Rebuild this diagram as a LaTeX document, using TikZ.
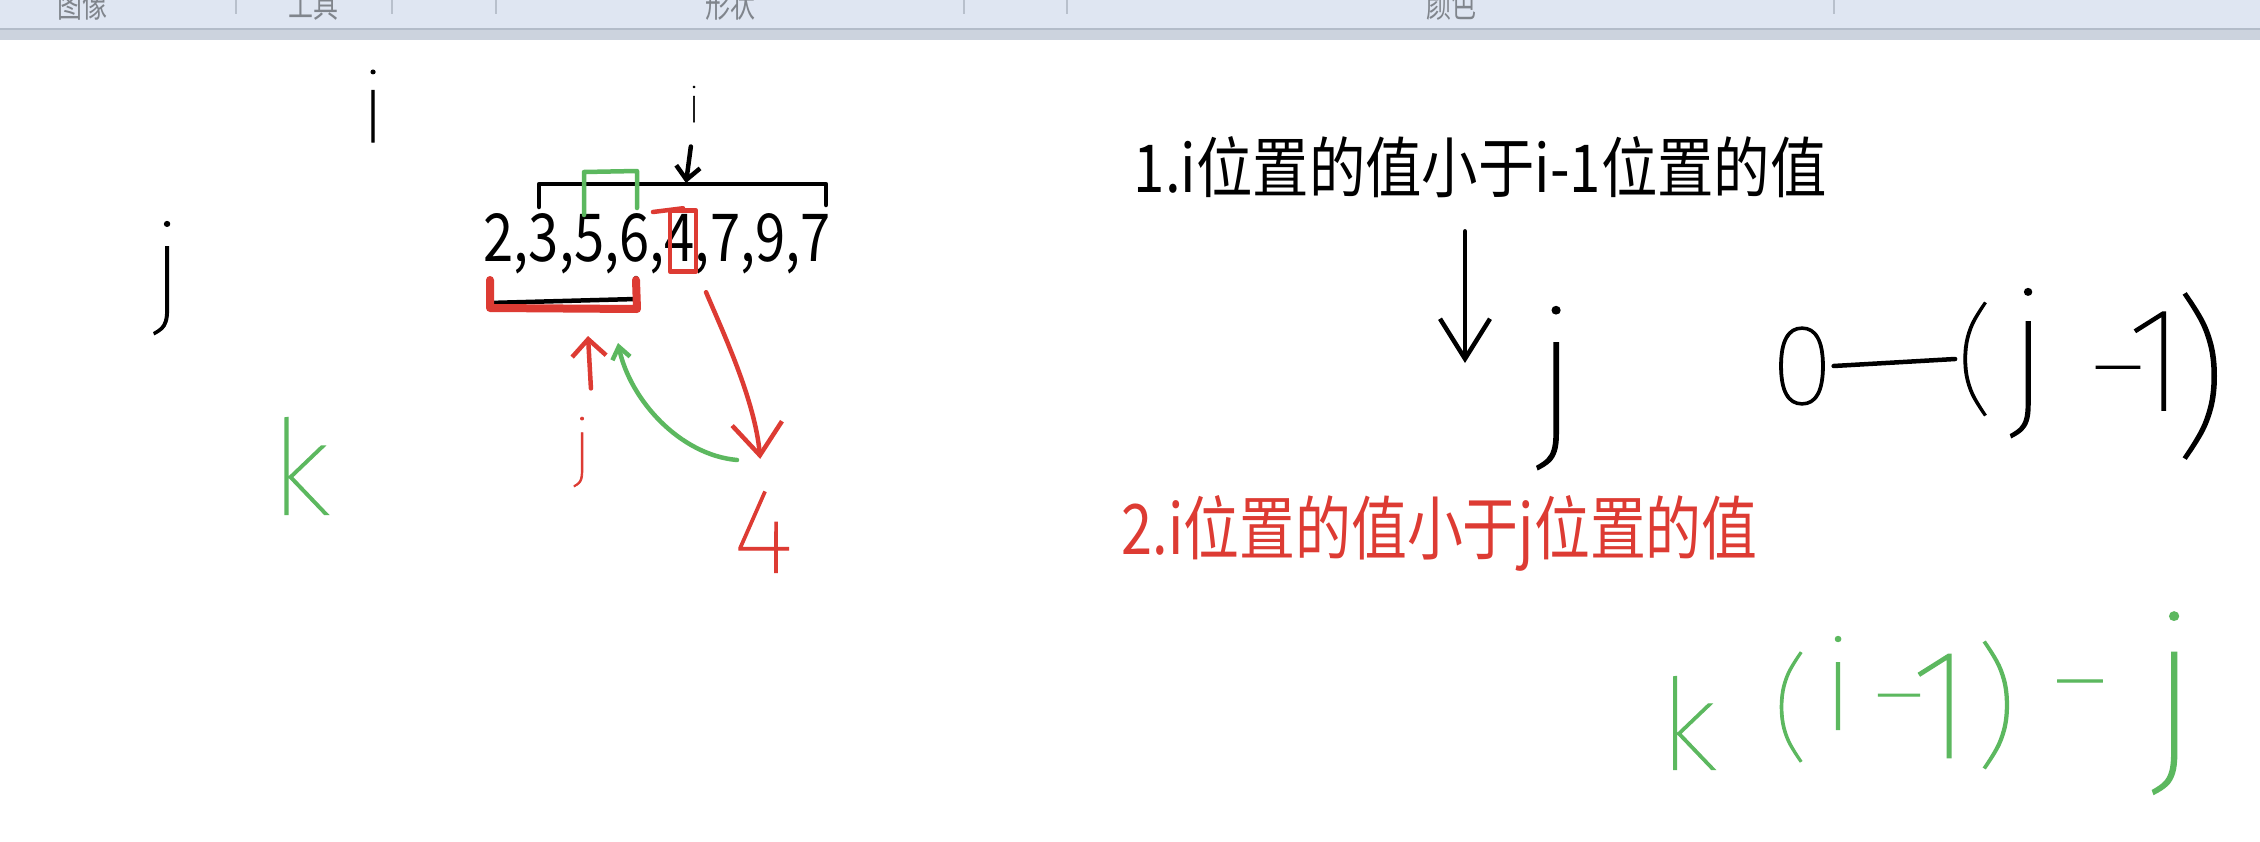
\documentclass[tikz,border=0pt]{standalone}
\usepackage{fontspec}
\usepackage{graphicx}
\newfontfamily\cjk{Noto Sans CJK SC}
\IfFontExistsTF{Fira Sans Thin}{\newfontfamily\handfont{Fira Sans Thin}[FakeBold=1]}{%
 \IfFontExistsTF{Fira Sans ExtraLight}{\newfontfamily\handfont{Fira Sans ExtraLight}[FakeBold=1]}{%
  \IfFontExistsTF{Lato Hairline}{\newfontfamily\handfont{Lato Hairline}[FakeBold=1]}{%
   \IfFontExistsTF{Lato Thin}{\newfontfamily\handfont{Lato Thin}[FakeBold=1]}{%
    \IfFontExistsTF{DejaVu Sans ExtraLight}{\newfontfamily\handfont{DejaVu Sans ExtraLight}[FakeBold=1]}{%
     \IfFontExistsTF{Fira Sans Light}{\newfontfamily\handfont{Fira Sans Light}[FakeBold=1]}{%
      \IfFontExistsTF{Lato Light}{\newfontfamily\handfont{Lato Light}[FakeBold=1]}{%
       \newfontfamily\handfont{DejaVu Sans}}}}}}}}
\usetikzlibrary{arrows.meta}

\definecolor{barbg}{HTML}{DFE6F2}
\definecolor{stripbg}{HTML}{CCD3DE}
\definecolor{stripline}{HTML}{B3BCC9}
\definecolor{sepgray}{HTML}{B8C0CC}
\definecolor{tabgray}{HTML}{80858C}
\definecolor{penred}{HTML}{DD3B33}
\definecolor{pengreen}{HTML}{5CB85F}

\newcommand\ink[2]{\resizebox{!}{#1}{#2}}
\newcommand\inkw[2]{\resizebox{#1}{!}{#2}}

\begin{document}
\begin{tikzpicture}[x=0.1mm, y=-0.1mm,
  pen/.style={line width=0.45mm, line cap=round, line join=round},
  hand/.style={font=\handfont, inner sep=0pt},
  txt/.style={font=\cjk, inner sep=0pt},
  tab/.style={font=\cjk\fontsize{7.1pt}{8pt}\selectfont, text=tabgray, inner sep=0pt, anchor=south}]
  \clip (0,0) rectangle (2260,842);
  \fill[white] (0,0) rectangle (2260,842);

  % toolbar of the paint window
  \fill[barbg] (0,0) rectangle (2260,28);
  \fill[stripbg] (0,28) rectangle (2260,40);
  \draw[stripline, line width=0.2mm] (0,29) -- (2260,29);
  \foreach \x in {236,392,496,964,1067,1834}
    \draw[sepgray, line width=0.15mm] (\x,0) -- (\x,14);
  \node[tab] (tabImage) at (82,21) {\scalebox{1}[1.4]{图像}};
  \node[tab] (tabTools) at (313,21) {\scalebox{1}[1.4]{工具}};
  \node[tab] (tabShapes) at (730,21) {\scalebox{1}[1.4]{形状}};
  \node[tab] (tabColors) at (1451,21) {\scalebox{1}[1.4]{颜色}};

  % left part: the array
  \node[hand] (iTop) at (373,106) {\ink{7.2mm}{i}};
  \node[hand] (jLeft) at (167,278) {\ink{8.9mm}{j}};
  \node[hand, text=pengreen] (kLeft) at (300,466) {\ink{9.7mm}{k}};

  \node[txt, anchor=west] (arr) at (483,244) {\resizebox{34.7mm}{4.8mm}{2,3,5,6,4,7,9,7}};
  \draw[pen] (539,207) -- (539,184) -- (826,184) -- (826,205);
  \draw[pen, pengreen] (584,215) -- (584,172) -- (637,171) -- (637,208);
  \node[draw=penred, pen, minimum width=2.6mm, minimum height=6.1mm, inner sep=0pt] (box4) at (683,241) {};
  \draw[pen, penred] (653,212) -- (box4.north);

  \node[hand] (iMid) at (694,104) {\ink{3.6mm}{i}};
  \coordinate (iTip) at (686,183);
  \draw[pen, -{Straight Barb[length=1.3mm, width=2.4mm]}, shorten <=2.4mm] (iMid.south) -- (iTip);

  % sorted part under the array
  \draw[pen] (489,303) -- (636,299) -- (636,278);
  \draw[pen, penred, line width=0.8mm] (490,280) -- (490,308) -- (637,309) -- (636,280);
  \coordinate (redTip) at (588,336);
  \coordinate (greenTip) at (618,343);
  \coordinate (greenTail) at (737,460);

  \node[hand, text=penred] (jRed) at (582,452) {\ink{5.5mm}{j}};
  \node[hand, text=penred] (fourRed) at (763,532) {\ink{8.1mm}{4}};
  \draw[pen, penred, -{Straight Barb[length=1.7mm, width=3.4mm]}, shorten <=2.8mm] (jRed.north east) -- (redTip);
  \draw[pen, penred, -{Straight Barb[length=3.2mm, width=5mm]}, shorten <=2mm, shorten >=3.2mm]
    (box4.south east) .. controls (722,330) and (755,400) .. (fourRed.north);
  \draw[pen, pengreen, -{Straight Barb[length=1.2mm, width=1.8mm]}]
    (greenTail) .. controls (680,455) and (630,400) .. (greenTip);

  % right part: the two cases
  \node[txt, anchor=west] (rule1) at (1133,167) {\resizebox{69.3mm}{5.6mm}{1.i位置的值小于i-1位置的值}};
  \coordinate (bigTip) at (1465,363);
  \draw[pen, -{Straight Barb[length=4mm, width=5mm]}, shorten <=3.3mm] (bigTip |- rule1.south) -- (bigTip);

  \node[hand] (jRight) at (1556,388) {\ink{12.8mm}{j}};
  \node[hand] (zeroR) at (1802,366) {\ink{7.7mm}{0}};
  \node[hand] (parL) at (1975,359) {\ink{9.8mm}{(}};
  \draw[pen] (zeroR.east) -- (parL.west);
  \node[hand] (jIn) at (2028,363) {\ink{11.7mm}{j}};
  \node[hand] (dashR) at (2118,383) {\inkw{5.4mm}{–}};
  \node[hand] (oneR) at (2156,361) {\ink{9.8mm}{1}};
  \node[hand] (parR) at (2200,376) {\ink{14.3mm}{)}};

  \node[txt, anchor=west, text=penred] (rule2) at (1121,533) {\resizebox{63.6mm}{5.9mm}{2.i位置的值小于j位置的值}};

  \begin{scope}[every node/.style={hand, text=pengreen}]
    \node (kR) at (1688,723) {\ink{9.3mm}{k}};
    \node (parL2) at (1791,707) {\ink{9.5mm}{(}};
    \node (iG) at (1838,683) {\ink{9.3mm}{i}};
    \node (dashG1) at (1899,710) {\inkw{5.1mm}{–}};
    \node (oneG) at (1941,706) {\ink{10.3mm}{1}};
    \node (parR2) at (1996,705) {\ink{11mm}{)}};
    \node (dashG2) at (2080,697) {\inkw{5.5mm}{–}};
    \node (jG) at (2174,703) {\ink{14.3mm}{j}};
  \end{scope}
\end{tikzpicture}
\end{document}
